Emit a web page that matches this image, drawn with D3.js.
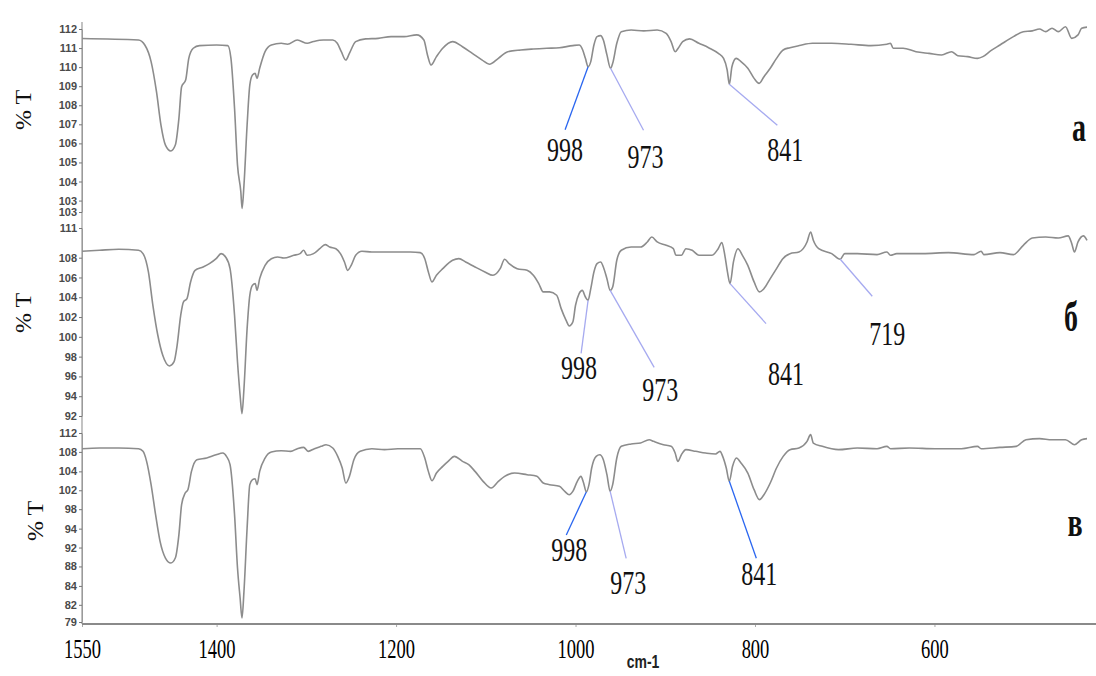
<!DOCTYPE html>
<html>
<head>
<meta charset="utf-8">
<script src="https://cdn.jsdelivr.net/npm/d3@7"></script>
<style>
  body { margin: 0; background: #fff; }
  svg { display: block; }
</style>
</head>
<body>
<script>
// IR spectra, three samples (а, б, в), %T vs wavenumber

const xTicks = [1550, 1400, 1200, 1000, 800, 600];

// [wavenumber, %T]
const spectrumA = [
  [1550,111.5],[1487,111.42],[1480,111.16],[1473,110.29],[1467,108.71],[1462,106.96],[1457,105.91],[1451,105.6],[1446,105.91],[1442,107.31],
  [1439,108.97],[1434.5,109.32],[1431,110.46],[1426,110.99],[1419,111.13],[1400,111.16],[1387.5,111.13],[1384,110.46],[1380,107.84],[1376.7,104.86],
  [1373,103.46],[1371.6,102.59],[1369.5,103.81],[1366,106.96],[1363,109.06],[1360,109.59],[1357,109.67],[1355,109.41],[1352,109.94],[1346,110.81],
  [1339,111.16],[1328,111.25],[1321,111.2],[1310,111.42],[1299,111.25],[1292,111.34],[1281,111.42],[1270.5,111.42],[1265.5,111.25],[1261,110.81],
  [1256,110.37],[1252,110.72],[1245,111.34],[1234,111.48],[1220,111.51],[1205.5,111.6],[1191,111.6],[1177,111.69],[1169,111.42],[1165,110.64],
  [1161,110.11],[1155,110.55],[1148,110.99],[1137,111.34],[1126,111.07],[1115,110.72],[1104,110.37],[1096,110.15],[1086,110.46],[1075.5,110.81],
  [1061,110.9],[1047,110.95],[1032,110.99],[1018,111.02],[1003,111.13],[996,111.16],[992,110.9],[989,110.46],[986,110.02],[983,110.29],
  [979.5,111.16],[976,111.6],[972,111.65],[969,111.42],[965,110.64],[961,109.94],[958.6,110.2],[954,111.25],[949,111.86],[938,111.95],
  [924,111.9],[909,111.95],[899,111.77],[893.5,111.34],[889,110.81],[885.6,110.99],[880.6,111.34],[873,111.48],[862.5,111.25],[851.7,111.02],
  [840.8,110.72],[835,110.46],[831,109.85],[828.6,109.1],[825.7,110.02],[821,110.46],[815.6,110.29],[808,109.94],[801,109.41],[795.4,109.15],
  [790,109.5],[783,109.94],[776,110.46],[768.6,110.9],[761,111.02],[750.6,111.13],[736,111.25],[714.5,111.25],[693,111.2],[671,111.13],
  [653,111.2],[649,111.25],[646,110.99],[635,110.99],[620.6,110.81],[606,110.72],[592,110.64],[581,110.81],[574,110.6],[563,110.55],
  [552,110.46],[546,110.55],[537.5,110.85],[527,111.16],[512,111.6],[501,111.86],[491,111.9],[483,112.0],[476,111.86],[469,112.04],
  [462,111.86],[454,112.12],[447,111.51],[440,111.69],[436,112.04],[430,112.1]
];

const spectrumB = [
  [1550,108.65],[1530.5,108.75],[1509,108.85],[1487,108.75],[1482,108.41],[1476,106.56],[1471,103.19],[1465.5,100.16],[1460,98.13],[1452.5,97.06],
  [1447.5,97.46],[1444,99.14],[1440,102.18],[1437,103.52],[1433,103.86],[1429,105.55],[1424,106.72],[1415,107.06],[1408,107.4],[1400.5,107.9],
  [1395,108.41],[1390,108.07],[1385,106.89],[1380,102.18],[1376.7,97.46],[1373.8,94.09],[1371.7,92.24],[1369.5,94.77],[1366,100.83],[1363,104.2],
  [1360,105.21],[1357,105.38],[1355,104.7],[1352,105.88],[1346,107.23],[1339,107.9],[1332,108.07],[1325,107.97],[1314,108.24],[1307,108.41],
  [1303,108.75],[1299,108.24],[1292,108.41],[1285,108.91],[1279,109.32],[1274,109.08],[1267,108.91],[1262,108.41],[1257.5,107.57],[1254,106.72],
  [1250,107.23],[1245,108.24],[1238,108.65],[1227,108.58],[1213,108.58],[1198,108.58],[1184,108.58],[1173,108.51],[1168,107.9],[1164,106.56],
  [1160,105.55],[1155,106.22],[1148,106.89],[1137,107.74],[1130,107.9],[1122.5,107.57],[1112,107.06],[1101,106.56],[1092,106.22],[1084,106.89],
  [1079,107.84],[1074,107.4],[1065,106.89],[1054,106.72],[1047,106.22],[1041,105.38],[1036,104.54],[1029,104.54],[1021,104.2],[1016,102.85],
  [1010.5,101.67],[1007,101.1],[1003,101.5],[1000,103.19],[996,104.37],[992.5,104.7],[989,104.03],[986,103.69],[983,104.87],[979.5,106.56],
  [976,107.4],[972,107.57],[969,107.06],[965,105.88],[961.4,104.7],[958.6,105.04],[954,107.74],[949,108.75],[938,109.08],[927.5,109.08],
  [920,109.59],[915,110.09],[909,109.59],[899,109.25],[891,108.91],[888,108.24],[882,108.24],[877,108.91],[870,108.75],[862.5,108.24],
  [848,108.24],[841,108.91],[837,109.52],[833.6,108.24],[830.7,106.56],[827.8,105.38],[824,107.57],[819,108.91],[814,108.24],[808,107.23],
  [801,105.55],[795,104.54],[790,104.87],[783,105.88],[776,106.89],[769,107.9],[761,108.41],[751,108.58],[742,109.59],[738,110.6],
  [735,109.76],[729,108.91],[714.5,108.41],[705,107.84],[700,108.41],[686,108.41],[664,108.31],[653,108.58],[649,108.24],[642,108.41],
  [613,108.41],[584.5,108.51],[556,108.31],[548,108.65],[545,108.31],[527,108.51],[512,108.31],[501,109.25],[491,109.99],[476,110.09],
  [462,109.99],[451,110.2],[447,109.42],[444,108.58],[440,109.59],[434,110.2],[430,109.76]
];

const spectrumC = [
  [1550,109.26],[1530.5,109.38],[1509,109.38],[1487,109.26],[1482,108.8],[1478,107.05],[1473,102.98],[1468,97.74],[1463,93.08],[1457,90.17],
  [1451,89.3],[1446,90.17],[1442,94.25],[1439,99.48],[1435,101.52],[1432,102.1],[1428,105.3],[1422,107.34],[1411,107.63],[1400.5,108.21],
  [1393,108.5],[1389,107.92],[1385,106.47],[1380,97.74],[1376.7,88.43],[1373.8,83.19],[1371.7,79.7],[1369.5,84.35],[1366,95.41],[1363,102.98],
  [1360,103.85],[1357,104.02],[1355,102.98],[1352,105.3],[1346,107.63],[1339,108.68],[1328,108.91],[1317.5,108.8],[1310,109.26],[1303,109.49],
  [1298,108.8],[1291,109.26],[1283.5,109.67],[1278,109.96],[1270.5,109.38],[1265,107.92],[1260,105.89],[1256,103.27],[1252,104.43],[1247,107.34],
  [1240,108.8],[1227,109.26],[1213,109.09],[1198,109.26],[1184,109.26],[1173,109.26],[1168,107.63],[1164,105.3],[1160,103.67],[1155,105.01],
  [1148,106.18],[1142,107.05],[1135,107.92],[1126,107.05],[1119,106.47],[1112,105.3],[1103,103.56],[1094,102.39],[1086,103.56],[1079,104.43],
  [1068,105.01],[1054,104.72],[1043,104.43],[1036,103.27],[1029,102.98],[1018,102.69],[1012,101.81],[1007,101.23],[1003,101.81],[998,103.56],
  [994,104.43],[991,103.27],[988,101.7],[985,102.98],[982,105.89],[977,107.92],[973,108.21],[969,107.34],[965,104.72],[961.4,101.81],
  [958.6,102.98],[954,107.63],[949,109.67],[938,110.08],[927.5,110.25],[918,110.83],[913,110.54],[902,109.96],[893.5,109.67],[889,108.5],
  [886,107.05],[882,108.21],[877,109.09],[866,108.8],[855,108.5],[844,108.33],[839,108.8],[836,107.92],[832,105.89],[828.6,103.56],
  [825,106.18],[820.6,107.63],[815.6,106.76],[808,105.01],[801,102.1],[795,100.36],[790,101.23],[783,103.27],[776,105.89],[768.6,107.92],
  [761,109.09],[751,109.38],[742,110.54],[738,111.71],[735,110.25],[725,109.67],[707,109.09],[686,109.38],[664,109.26],[653,109.67],
  [649,109.26],[628,109.38],[599,109.26],[570,109.26],[552,109.67],[548,109.26],[527,109.49],[509,109.67],[498,110.83],[483,111.01],
  [469,110.83],[454,110.83],[444,109.96],[436,110.83],[430,111.01]
];

// y ticks as printed on each panel
const ticksA = [112, 111, 110, 109, 108, 107, 106, 105, 104, 103, 102.4];
const tickLabelsA = ["112", "111", "110", "109", "108", "107", "106", "105", "104", "103", "103"];
const ticksB = [111, 108, 106, 104, 102, 100, 98, 96, 94, 92];
const tickLabelsB = ["111", "108", "106", "104", "102", "100", "98", "96", "94", "92"];
const ticksC = [112, 108.7, 105.3, 102, 98.7, 95.3, 92, 88.7, 85.3, 82, 79];
const tickLabelsC = ["112", "108", "104", "102", "98", "94", "92", "88", "84", "82", "79"];

// marked bands: anchor on the curve
const peaksA = [
  { label: "998", wn: 986, t: 110.02 },
  { label: "973", wn: 961, t: 109.94 },
  { label: "841", wn: 828.6, t: 109.1 }
];
const peaksB = [
  { label: "998", wn: 986, t: 103.69 },
  { label: "973", wn: 961.4, t: 104.7 },
  { label: "841", wn: 827.8, t: 105.38 },
  { label: "719", wn: 705, t: 107.84 }
];
const peaksC = [
  { label: "998", wn: 988, t: 101.7 },
  { label: "973", wn: 961.4, t: 101.81 },
  { label: "841", wn: 828.6, t: 103.56 }
];

// leader line end / label position offsets (px) from anchor, and line colour
const BRIGHT = "#2a66f0", PALE = "#a6aaf0";
const calloutsA = [
  { line: [-23, 63], text: [-23, 94], color: BRIGHT },
  { line: [33, 62], text: [35, 100], color: PALE },
  { line: [48, 41], text: [56, 77], color: PALE }
];
const calloutsB = [
  { line: [-7, 53], text: [-9, 79], color: PALE },
  { line: [44, 77], text: [50, 111], color: PALE },
  { line: [36, 40], text: [56, 101], color: PALE },
  { line: [32, 37], text: [47, 86], color: PALE }
];
const calloutsC = [
  { line: [-20, 43], text: [-17, 69], color: BRIGHT },
  { line: [16, 67], text: [18, 103], color: PALE },
  { line: [27, 77], text: [30, 104], color: BRIGHT }
];

const w = 1096;
const h = 676;
const left = 82;
const axisY = 624;

const panels = [
  { data: spectrumA, ticks: ticksA, labels: tickLabelsA, peaks: peaksA, callouts: calloutsA,
    domain: [102.4, 112], range: [212, 29], name: "а", nameX: 1079, nameY: 141, titleX: 23, titleY: 110 },
  { data: spectrumB, ticks: ticksB, labels: tickLabelsB, peaks: peaksB, callouts: calloutsB,
    domain: [92, 111], range: [416, 228], name: "б", nameX: 1071, nameY: 331, titleX: 23, titleY: 313 },
  { data: spectrumC, ticks: ticksC, labels: tickLabelsC, peaks: peaksC, callouts: calloutsC,
    domain: [79, 112], range: [622, 433], name: "в", nameX: 1075, nameY: 536, titleX: 35, titleY: 521 }
];

const xScale = d3.scaleLinear()
                 .domain([1550, 430])
                 .range([left, 1087]);

const svg = d3.select("body")
  .append("svg")
  .attr("width", w)
  .attr("height", h);

svg.append("rect")
   .attr("width", w)
   .attr("height", h)
   .attr("fill", "#fff");

// left frame line
svg.append("line")
   .attr("x1", left).attr("x2", left)
   .attr("y1", 22).attr("y2", axisY)
   .attr("stroke", "#9a9a9a")
   .attr("stroke-width", 1.2);

panels.forEach((p) => {
  const yScale = d3.scaleLinear()
                   .domain(p.domain)
                   .range(p.range);

  const yAxis = d3.axisLeft(yScale)
                  .tickValues(p.ticks)
                  .tickFormat((d, i) => p.labels[i])
                  .tickSize(3)
                  .tickSizeOuter(0)
                  .tickPadding(2);

  const g = svg.append("g")
     .attr("transform", `translate(${left}, 0)`)
     .call(yAxis);
  g.select(".domain").attr("stroke", "#9a9a9a");
  g.selectAll(".tick line").attr("stroke", "#777");
  g.selectAll(".tick text")
   .attr("fill", "#4a4a4a")
   .style("font-family", "'Liberation Sans', Arial, sans-serif")
   .style("font-size", "11px")
   .style("font-weight", "bold");

  const line = d3.line()
                 .x((d) => xScale(d[0]))
                 .y((d) => yScale(d[1]))
                 .curve(d3.curveMonotoneX);

  svg.append("path")
     .datum(p.data)
     .attr("d", line)
     .attr("fill", "none")
     .attr("stroke", "#8c8c8c")
     .attr("stroke-width", 1.6)
     .attr("stroke-linejoin", "round");

  // band callouts
  p.peaks.forEach((pk, i) => {
    const c = p.callouts[i];
    const ax = xScale(pk.wn);
    const ay = yScale(pk.t);
    svg.append("line")
       .attr("x1", ax).attr("y1", ay)
       .attr("x2", ax + c.line[0]).attr("y2", ay + c.line[1])
       .attr("stroke", c.color)
       .attr("stroke-width", 1.3);
    svg.append("text")
       .attr("transform", `translate(${ax + c.text[0]}, ${ay + c.text[1]}) scale(1, 1.4)`)
       .attr("text-anchor", "middle")
       .attr("fill", "#111")
       .style("font-family", "'Liberation Serif', 'Times New Roman', serif")
       .style("font-size", "24px")
       .text(pk.label);
  });

  // %T title
  svg.append("text")
     .attr("transform", `translate(${p.titleX}, ${p.titleY}) rotate(-90)`)
     .attr("text-anchor", "middle")
     .attr("dy", "0.35em")
     .attr("fill", "#111")
     .style("font-family", "'Liberation Serif', 'Times New Roman', serif")
     .style("font-size", "24px")
     .text("% T");

  // sample letter
  svg.append("text")
     .attr("transform", `translate(${p.nameX}, ${p.nameY}) scale(1, 1.5)`)
     .attr("text-anchor", "middle")
     .attr("fill", "#111")
     .style("font-family", "'Liberation Serif', 'Times New Roman', serif")
     .style("font-size", "28px")
     .style("font-weight", "bold")
     .text(p.name);
});

// x axis
const xAxis = d3.axisBottom(xScale)
                .tickValues(xTicks)
                .tickFormat(d3.format("d"))
                .tickSize(3)
                .tickSizeOuter(0);

const gx = svg.append("g")
   .attr("transform", `translate(0, ${axisY})`)
   .call(xAxis);
gx.select(".domain").remove();
gx.append("line")
  .attr("x1", left).attr("x2", w)
  .attr("stroke", "#8a8a8a")
  .attr("stroke-width", 2);
gx.selectAll(".tick line").attr("stroke", "#aaa");
gx.selectAll(".tick text")
  .attr("y", null)
  .attr("dy", null)
  .attr("transform", "translate(0, 34) scale(1, 1.45)")
  .attr("fill", "#000")
  .style("font-family", "'Liberation Serif', 'Times New Roman', serif")
  .style("font-size", "18.5px");

svg.append("text")
   .attr("transform", "translate(643, 668) scale(1, 1.3)")
   .attr("text-anchor", "middle")
   .attr("fill", "#222")
   .style("font-family", "'Liberation Sans', Arial, sans-serif")
   .style("font-size", "14px")
   .style("font-weight", "bold")
   .text("cm-1");
</script>
</body>
</html>
